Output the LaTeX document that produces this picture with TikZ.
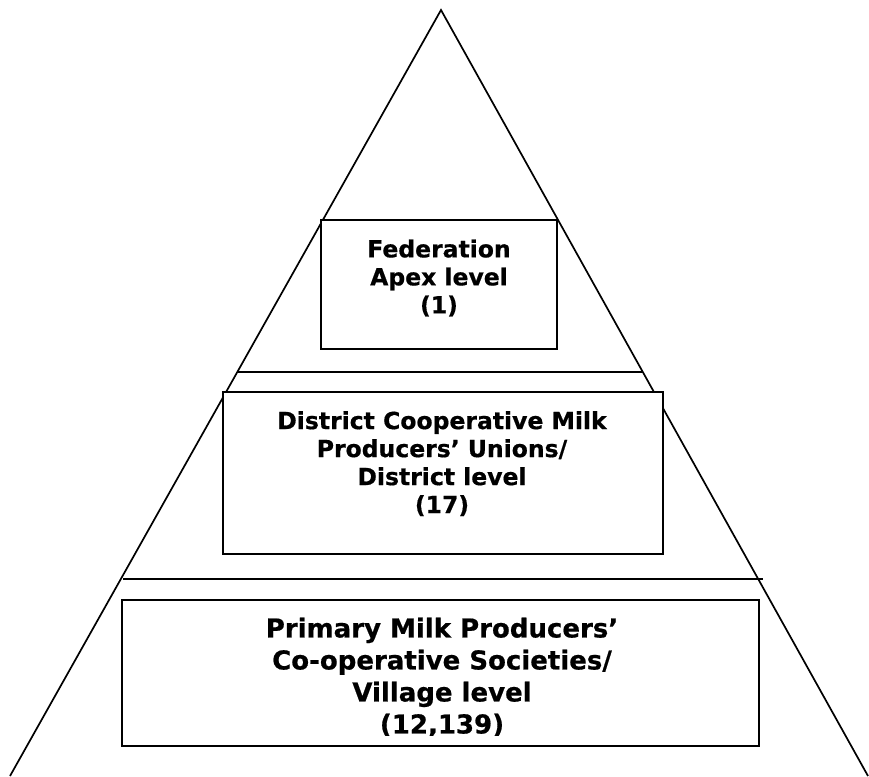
\documentclass[tikz,border=0pt]{standalone}
\usepackage{fontspec}
\setmainfont{DejaVu Sans}[BoldFeatures={FakeBold=0.6}]
\begin{document}
\begin{tikzpicture}[x=1pt,y=-1pt,
  tri/.style={line width=1.7pt},
  sep/.style={line width=2pt},
  levelbox/.style={draw,fill=white,line width=2.1pt},
  lbl/.style={inner sep=0pt,anchor=north,align=center,font=\bfseries\fontsize{23.5}{28}\selectfont},
  lblbig/.style={inner sep=0pt,anchor=north,align=center,font=\bfseries\fontsize{26}{32}\selectfont}]
\useasboundingbox (0,0) rectangle (869,776);
\coordinate (apex) at (441,10);
\coordinate (bl) at (10,776);
\coordinate (br) at (868,776);
\draw[tri] (bl) -- (apex) -- (br);
\coordinate (s1l) at (237,372);
\coordinate (s1r) at (643,372);
\draw[sep] (s1l) -- (s1r);
\coordinate (s2l) at (123,579);
\coordinate (s2r) at (763,579);
\draw[sep] (s2l) -- (s2r);
% boxes
\draw[levelbox] (321,220) rectangle (557,349);
\node[lbl] (fed) at (439,239.3) {Federation\\Apex level\\(1)};
\draw[levelbox] (223,392) rectangle (663,554);
\node[lbl] (dist) at (442,411) {District Cooperative Milk\\Producers’ Unions/\\District level\\(17)};
\draw[levelbox] (122,600) rectangle (759,746);
\begin{scope}
\clip (122,600) rectangle (759,735);
\node[lblbig] (prim) at (442,617.5) {Primary Milk Producers’\\Co-operative Societies/\\Village level\\(12,139)};
\end{scope}
\end{tikzpicture}
\end{document}
